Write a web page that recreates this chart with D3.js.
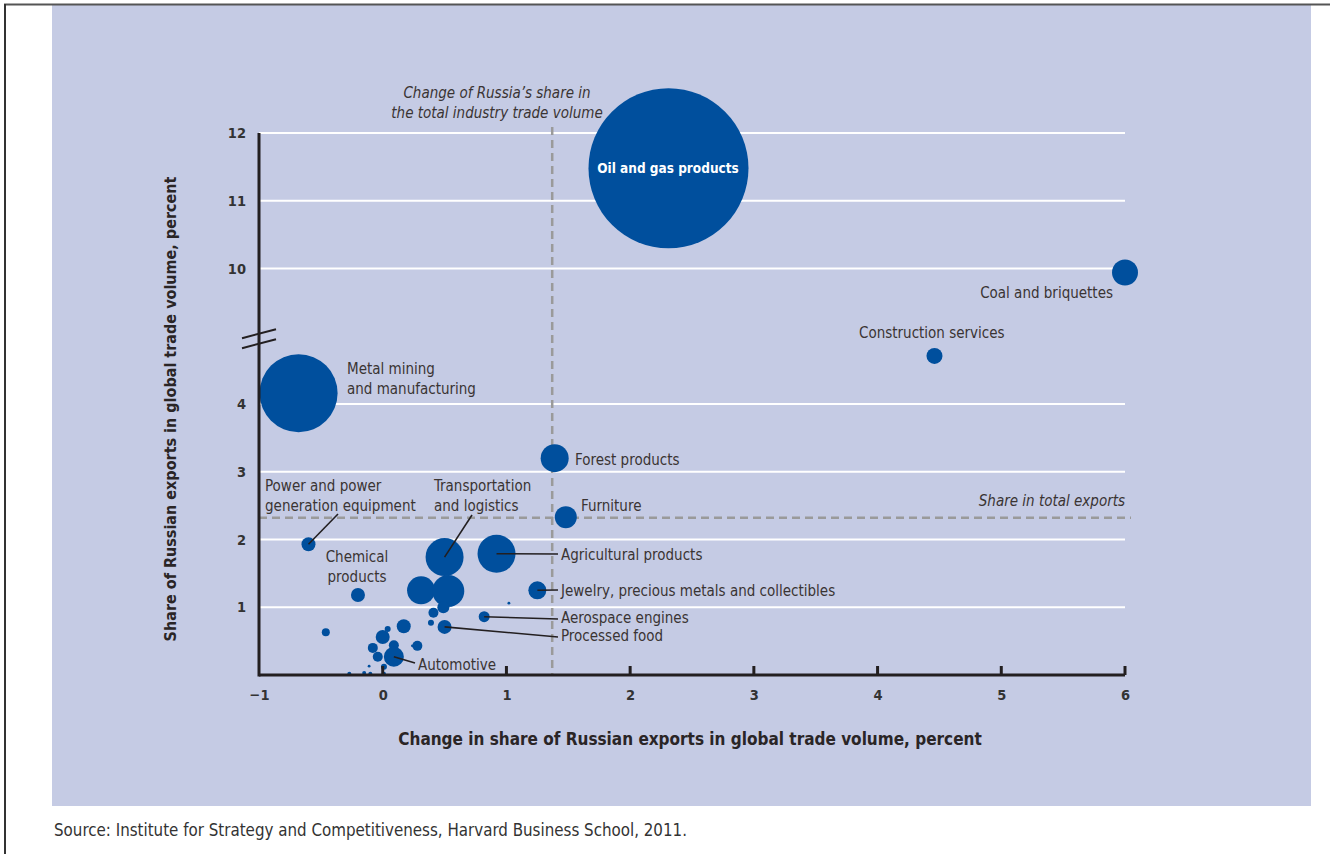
<!DOCTYPE html>
<html><head><meta charset="utf-8">
<script src="https://cdn.jsdelivr.net/npm/d3@7"></script>
<style>
html,body{margin:0;padding:0;background:#fff;}
svg{display:block;}
text{font-family:"Liberation Sans Narrow","DejaVu Sans Condensed","Roboto",sans-serif;}
</style></head>
<body>
<svg id="chart" width="1330" height="854"></svg>
<script>
// ---- data ----
const names = ["Oil and gas products","Coal and briquettes","Construction services","Metal mining and manufacturing",
 "Forest products","Furniture","Power and power generation equipment","Transportation and logistics",
 "Agricultural products","Chemical products","Other 1","Other 2","Jewelry, precious metals and collectibles",
 "Other 3","Aerospace engines","Processed food","Other 4","Other 5","Other 6","Other 7","Other 8","Other 9",
 "Other 10","Other 11","Other 12","Other 13","Other 14","Automotive","Other 15","Other 16","Other 17",
 "Other 18","Other 19","Other 20","Other 21"];
const xChange = [2.31,6.0,4.46,-0.68,1.39,1.48,-0.60,0.50,0.92,-0.20,0.31,0.53,1.25,1.02,0.82,0.50,0.41,0.49,0.39,0.17,
 0.0,0.04,-0.08,0.09,0.28,0.24,-0.04,0.09,0.01,-0.11,-0.46,-0.27,-0.15,-0.10,0.01];
const yShare = [11.48,9.94,4.71,4.16,3.20,2.33,1.93,1.74,1.79,1.18,1.25,1.24,1.25,1.06,0.86,0.71,0.92,1.00,0.77,0.72,
 0.56,0.68,0.40,0.44,0.43,0.43,0.27,0.27,0.12,0.13,0.63,0.02,0.03,0.02,0.02];
const volume = [6400,169,64,1521,196,121,49,361,361,49,196,256,81,2,30,49,25,36,9,49,
 49,9,25,25,25,2,25,100,9,2,16,4,4,4,4];
const xTicks = [-1,0,1,2,3,4,5,6];
const yTicks = [1,2,3,4,10,11,12];
const industryShareChange = 1.37;   // vertical reference
const shareInTotalExports = 2.32;   // horizontal reference

// ---- layout ----
const svg = d3.select("#chart");
const blue = "#004f9d", textCol = "#3a3433";
svg.append("rect").attr("x",52).attr("y",5).attr("width",1259).attr("height",801).attr("fill","#c5cbe4");
svg.append("line").attr("x1",4).attr("x2",1330).attr("y1",4.5).attr("y2",4.5).attr("stroke","#555").attr("stroke-width",2);
svg.append("line").attr("x1",5).attr("x2",5).attr("y1",4).attr("y2",854).attr("stroke","#333").attr("stroke-width",2);

const x = d3.scaleLinear().domain([-1,6]).range([259,1125]);
const yb = 675 - 5*67.75;
const y = d3.scaleLinear().domain([0,5,9,12]).range([675,yb,yb,133]);
const r = d3.scaleSqrt().domain([0,6400]).range([0,80]);

// gridlines
svg.append("g").selectAll("line").data(yTicks).join("line")
  .attr("x1",x(-1)).attr("x2",x(6)).attr("y1",d=>y(d)).attr("y2",d=>y(d))
  .attr("stroke","#fff").attr("stroke-width",2.2);

// reference dashed lines
svg.append("line").attr("x1",x(industryShareChange)).attr("x2",x(industryShareChange))
  .attr("y1",127).attr("y2",y(0)).attr("stroke","#9a9a9a").attr("stroke-width",2.5).attr("stroke-dasharray","8,5");
svg.append("line").attr("x1",x(-1)).attr("x2",x(6)+6).attr("y1",y(shareInTotalExports)).attr("y2",y(shareInTotalExports))
  .attr("stroke","#9a9a9a").attr("stroke-width",2.5).attr("stroke-dasharray","8,5");

// bubbles
const idx = d3.range(names.length);
svg.append("g").selectAll("circle").data(idx).join("circle")
  .attr("cx",i=>x(xChange[i])).attr("cy",i=>y(yShare[i])).attr("r",i=>r(volume[i]))
  .attr("fill",blue);

// leader lines
const leaders = [
 [6,[338,514]],
 [7,[472,515]],
 [8,[558,554]],
 [12,[558,590]],
 [14,[558,619]],
 [15,[558,637]],
 [27,[415,663]]
];
svg.append("g").selectAll("line").data(leaders).join("line")
  .attr("x1",d=>x(xChange[d[0]])).attr("y1",d=>y(yShare[d[0]]))
  .attr("x2",d=>d[1][0]).attr("y2",d=>d[1][1])
  .attr("stroke","#231f20").attr("stroke-width",1.6);

// axes
svg.append("line").attr("x1",x(-1)).attr("x2",x(6)).attr("y1",y(0)).attr("y2",y(0)).attr("stroke","#231f20").attr("stroke-width",3);
svg.append("line").attr("x1",x(-1)).attr("x2",x(-1)).attr("y1",y(12)).attr("y2",y(0)+1.5).attr("stroke","#231f20").attr("stroke-width",3);
[0,10].forEach(o=>{
  svg.append("line").attr("x1",242).attr("y1",yb+2+o).attr("x2",276).attr("y2",yb-7+o)
   .attr("stroke","#231f20").attr("stroke-width",2);
});
const xAxis = d3.axisBottom(x).tickValues(xTicks).tickSize(0).tickPadding(15)
  .tickFormat(d=> d<0 ? "\u2212"+Math.abs(d) : d);
const gx = svg.append("g").attr("transform",`translate(0,${y(0)})`).call(xAxis);
gx.select(".domain").remove();
gx.selectAll("text").attr("font-size",14.5).attr("font-weight","bold").attr("fill","#333");
svg.append("g").selectAll("line").data(xTicks.filter(d=>d>-1)).join("line")
  .attr("x1",d=>x(d)).attr("x2",d=>x(d)).attr("y1",y(0)).attr("y2",y(0)-9)
  .attr("stroke","#231f20").attr("stroke-width",3);

const yAxis = d3.axisLeft(y).tickValues(yTicks).tickSize(0).tickPadding(13);
const gy = svg.append("g").attr("transform",`translate(${x(-1)},0)`).call(yAxis);
gy.select(".domain").remove();
gy.selectAll("text").attr("font-size",14.5).attr("font-weight","bold").attr("fill","#333");

// axis titles
svg.append("text").attr("x",690).attr("y",745).attr("text-anchor","middle")
  .attr("font-size",17).attr("font-weight","bold").attr("fill","#2a2526")
  .text("Change in share of Russian exports in global trade volume, percent");
svg.append("text").attr("transform","translate(176,409) rotate(-90)").attr("text-anchor","middle")
  .attr("font-size",16).attr("font-weight","bold").attr("fill","#2a2526")
  .text("Share of Russian exports in global trade volume, percent");

// labels
const labels = [
 {t:["Oil and gas products"],x:668,y:173,a:"middle",c:"#fff",w:"bold",s:13.5},
 {t:["Coal and briquettes"],x:1113,y:298,a:"end"},
 {t:["Construction services"],x:859,y:338,a:"start"},
 {t:["Metal mining","and manufacturing"],x:347,y:374,a:"start"},
 {t:["Forest products"],x:575,y:465,a:"start"},
 {t:["Furniture"],x:581,y:511,a:"start"},
 {t:["Power and power","generation equipment"],x:265,y:491,a:"start"},
 {t:["Transportation","and logistics"],x:434,y:491,a:"start"},
 {t:["Chemical","products"],x:357,y:562,a:"middle"},
 {t:["Agricultural products"],x:561,y:560,a:"start"},
 {t:["Jewelry, precious metals and collectibles"],x:561,y:596,a:"start"},
 {t:["Aerospace engines"],x:561,y:623,a:"start"},
 {t:["Processed food"],x:561,y:641,a:"start"},
 {t:["Automotive"],x:418,y:670,a:"start"}
];
labels.forEach(l=>{
  const t = svg.append("text").attr("x",l.x).attr("y",l.y).attr("text-anchor",l.a)
    .attr("font-size",l.s||15).attr("fill",l.c||textCol).attr("font-weight",l.w||"normal");
  l.t.forEach((s,i)=>t.append("tspan").attr("x",l.x).attr("dy",i?19.5:0).text(s));
});
const ann = svg.append("text").attr("x",497).attr("y",98).attr("text-anchor","middle")
  .attr("font-size",15).attr("font-style","italic").attr("fill",textCol);
["Change of Russia\u2019s share in","the total industry trade volume"].forEach((s,i)=>
  ann.append("tspan").attr("x",497).attr("dy",i?19.5:0).text(s));
svg.append("text").attr("x",1125).attr("y",506).attr("text-anchor","end")
  .attr("font-size",15).attr("font-style","italic").attr("fill",textCol).text("Share in total exports");

svg.append("text").attr("x",54).attr("y",836).attr("font-size",16.8).attr("fill","#333")
  .text("Source: Institute for Strategy and Competitiveness, Harvard Business School, 2011.");
</script>
</body></html>
